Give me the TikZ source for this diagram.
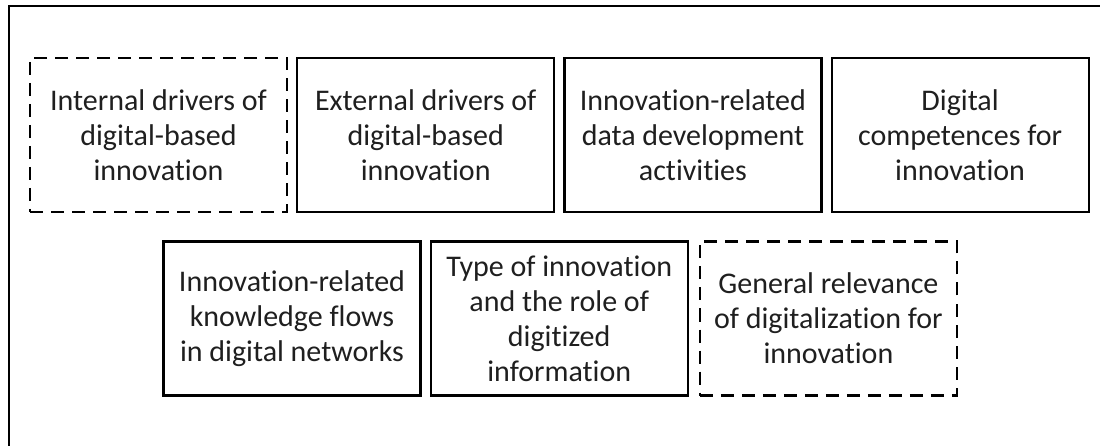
\documentclass[tikz,border=0pt]{standalone}
\usepackage{fontspec}
\setmainfont{Carlito}[Ligatures=NoCommon]
\usetikzlibrary{positioning}
\definecolor{boxtext}{HTML}{1f1f1f}
\tikzset{
  factorbox/.style={draw, line width=2.2pt, minimum width=257pt, minimum height=154pt,
    inner sep=0pt, align=center, text=boxtext, font=\fontsize{30}{35}\selectfont},
  dashbox/.style={factorbox, dash pattern=on 13pt off 8pt}
}

\begin{document}
\begin{tikzpicture}[x=1pt, y=-1pt, node distance=8pt]
  \useasboundingbox (0,0) rectangle (1100,446);
  % outer frame
  \draw[line width=2.2pt] (9,470) |- (1120,6);
  % Define first row
  \node[dashbox] (intdrv) at (158.5,135) {Internal drivers of\\digital-based\\innovation};
  \node[factorbox, right=of intdrv] (extdrv) {External drivers of\\digital-based\\innovation};
  \node[factorbox, right=of extdrv] (datadev) {Innovation-related\\data development\\activities};
  \node[factorbox, right=of datadev] (digcomp) {Digital\\competences for\\innovation};
  % Define second row
  \node[factorbox] (knowflow) at (292,318.5) {Innovation-related\\knowledge flows\\in digital networks};
  \node[factorbox, right=of knowflow] (innotype) {Type of innovation\\and the role of\\digitized\\information};
  \node[dashbox, right=of innotype, xshift=2pt] (genrel) {General relevance\\of digitalization for\\innovation};
\end{tikzpicture}
\end{document}
